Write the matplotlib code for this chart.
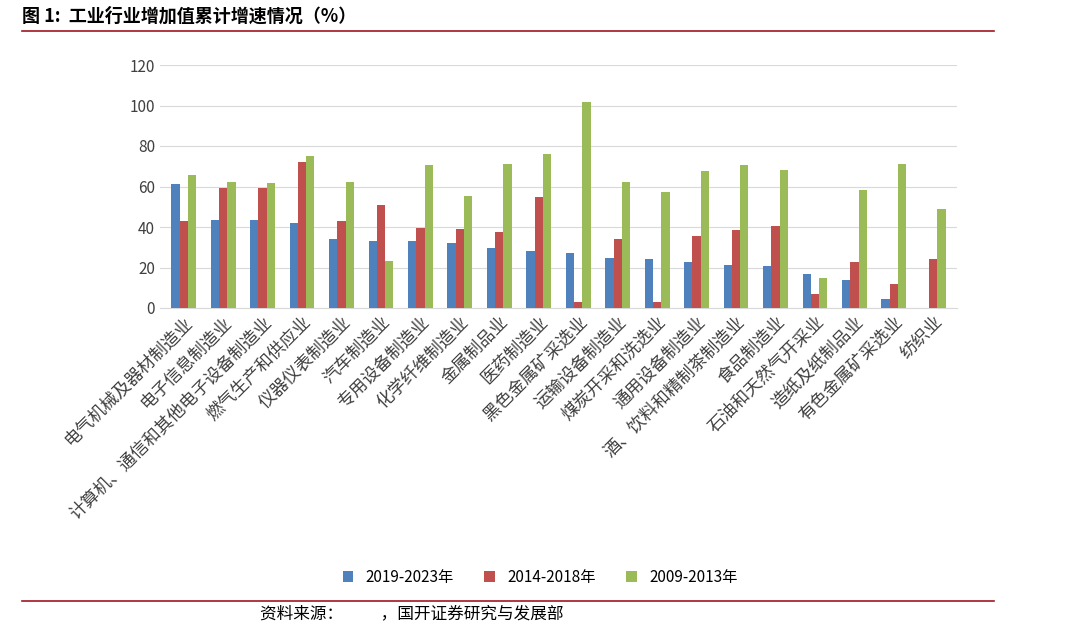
import numpy as np
import matplotlib.pyplot as plt
from matplotlib.lines import Line2D

plt.rcParams['font.family'] = ['Noto Sans CJK SC', 'DejaVu Sans']

categories = ["电气机械及器材制造业", "电子信息制造业", "计算机、通信和其他电子设备制造业",
              "燃气生产和供应业", "仪器仪表制造业", "汽车制造业", "专用设备制造业",
              "化学纤维制造业", "金属制品业", "医药制造业", "黑色金属矿采选业",
              "运输设备制造业", "煤炭开采和洗选业", "通用设备制造业",
              "酒、饮料和精制茶制造业", "食品制造业", "石油和天然气开采业",
              "造纸及纸制品业", "有色金属矿采选业", "纺织业"]
s2019 = [61, 43.5, 43.5, 42, 34, 33, 33, 32, 29.5, 28, 27, 24.5, 24, 22.5, 21, 20.5, 17, 14, 4.5, 0]
s2014 = [43, 59.5, 59.5, 72, 43, 51, 39.5, 39, 37.5, 55, 3, 34, 3, 35.5, 38.5, 40.5, 7, 22.5, 12, 24]
s2009 = [65.5, 62, 61.5, 75, 62, 23, 70.5, 55.5, 71, 76, 101.5, 62, 57.5, 67.5, 70.5, 68, 15, 58.5, 71, 49]
labels = ["2019-2023年", "2014-2018年", "2009-2013年"]
colors = ["#4F81BD", "#C0504D", "#9BBB59"]

fig = plt.figure(figsize=(10.8, 6.31), dpi=100)
ax = fig.add_axes([160 / 1080, 1 - 308 / 631, 797 / 1080, 243 / 631])

x = np.arange(len(categories))
w = 0.21
for i, (vals, lab, c) in enumerate(zip([s2019, s2014, s2009], labels, colors)):
    ax.bar(x + (i - 1) * w, vals, w, color=c, label=lab, zorder=3)

ax.set_xlim(-0.6, len(categories) - 0.4)
ax.set_ylim(0, 120)
ax.set_yticks(range(0, 121, 20))
ax.yaxis.grid(True, color="#D9D9D9", lw=0.8, zorder=0)
for s in ["top", "right", "left"]:
    ax.spines[s].set_visible(False)
ax.spines["bottom"].set_color("#D9D9D9")
ax.tick_params(axis="both", length=0, labelsize=11, colors="#404040")
ax.set_xticks(x)
ax.set_xticklabels(categories, rotation=45, ha="right", rotation_mode="anchor", fontsize=12.5)

ax.legend(loc="upper center", bbox_to_anchor=(0.5, 0.12), bbox_transform=fig.transFigure,
          ncol=3, frameon=False, fontsize=11, handlelength=0.7, handleheight=0.7, columnspacing=2)

fig.text(0.02, 1 - 16 / 631, "图 1:  工业行业增加值累计增速情况（%）", fontsize=13,
         fontweight="bold", va="center")
fig.add_artist(Line2D([0.02, 0.92], [1 - 31 / 631] * 2, color="#A0171E", lw=1.2))
fig.add_artist(Line2D([0.02, 0.92], [1 - 601 / 631] * 2, color="#A0171E", lw=1.2))
fig.text(260 / 1080, 1 - 614 / 631, "资料来源：          ，国开证券研究与发展部", fontsize=12, va="center")

fig.savefig("out.png", dpi=100)
